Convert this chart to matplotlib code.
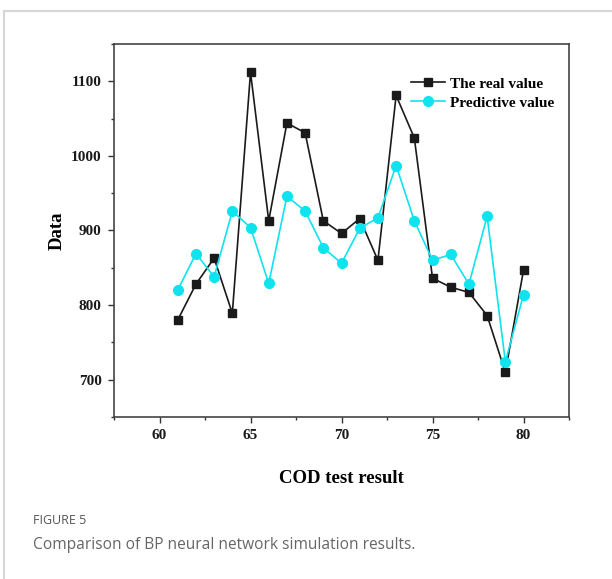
import matplotlib
matplotlib.use("Agg")
import matplotlib.pyplot as plt
from matplotlib.lines import Line2D
from matplotlib.ticker import MultipleLocator

# COD test samples 61..80
samples = list(range(61, 81))
real_value = [780, 828, 863, 789, 1112, 913, 1044, 1031, 913, 896,
              916, 860, 1081, 1024, 836, 824, 817, 786, 710, 847]
predictive_value = [820, 869, 838, 926, 904, 829, 946, 926, 877, 856,
                    903, 917, 987, 913, 860, 868, 828, 919, 724, 814]

serif = "Liberation Serif"

fig = plt.figure(figsize=(6.12, 5.79), dpi=100)
ax = fig.add_axes([0.1863, 0.2798, 0.7435, 0.6442])

ax.plot(samples, real_value, color="#1a1a1a", lw=1.2, marker="s", ms=6,
        label="The real value")
ax.plot(samples, predictive_value, color="#0fe3ee", lw=1.2, marker="o", ms=7,
        label="Predictive value")

ax.set_xlim(57.5, 82.5)
ax.set_ylim(650, 1150)
ax.xaxis.set_major_locator(MultipleLocator(5))
ax.xaxis.set_minor_locator(MultipleLocator(2.5))
ax.yaxis.set_major_locator(MultipleLocator(100))
ax.yaxis.set_minor_locator(MultipleLocator(50))
ax.tick_params(which="both", direction="out", color="#333333", width=1,
               top=False, right=False)
ax.tick_params(which="major", length=4, pad=5)
ax.tick_params(which="minor", length=2.5)
for lab in ax.get_xticklabels() + ax.get_yticklabels():
    lab.set_fontfamily(serif)
    lab.set_fontweight("bold")
    lab.set_fontsize(11)
    lab.set_color("#1a1a1a")
for sp in ax.spines.values():
    sp.set_color("#444444")
    sp.set_linewidth(1.2)

ax.set_xlabel("COD test result", fontfamily=serif, fontweight="bold",
              fontsize=13.5, labelpad=20)
ax.set_ylabel("Data", fontfamily=serif, fontweight="bold",
              fontsize=13.5, labelpad=4)

ax.legend(loc="upper right", bbox_to_anchor=(0.99, 0.94), frameon=False,
          prop={"family": serif, "weight": "bold", "size": 11},
          handlelength=2.2, handletextpad=0.3, labelspacing=0.35,
          borderaxespad=0.3)

# page frame and caption
fig.add_artist(Line2D([4 / 612, 1], [1 - 11 / 579] * 2, color="#d6d6d6", lw=1.5))
fig.add_artist(Line2D([4 / 612] * 2, [0, 1 - 11 / 579], color="#d6d6d6", lw=1.5))
fig.text(33 / 612, 1 - 520 / 579, "FIGURE 5", fontfamily="Open Sans",
         fontsize=9, color="#555555", va="center")
fig.text(33 / 612, 1 - 545 / 579,
         "Comparison of BP neural network simulation results.",
         fontfamily="Open Sans", fontsize=11.2, color="#666666", va="center")

fig.savefig("out.png", dpi=100)
